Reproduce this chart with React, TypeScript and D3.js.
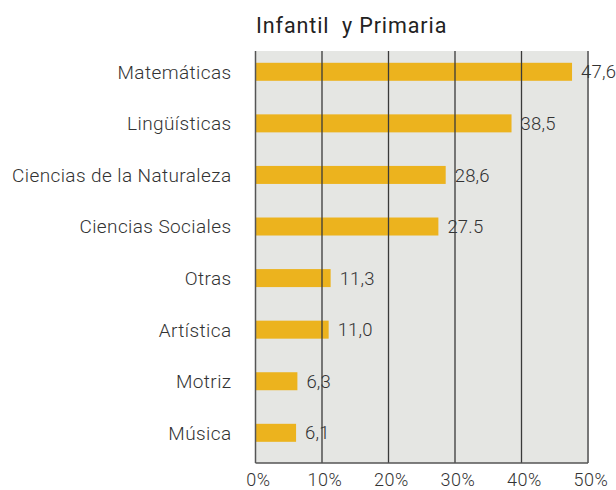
import React, { useRef, useEffect } from "react";
import * as d3 from "d3";

const categories = [
  "Matemáticas",
  "Lingüísticas",
  "Ciencias de la Naturaleza",
  "Ciencias Sociales",
  "Otras",
  "Artística",
  "Motriz",
  "Música",
];
const values = [47.6, 38.5, 28.6, 27.5, 11.3, 11.0, 6.3, 6.1];
const valueLabels = ["47,6", "38,5", "28,6", "27.5", "11,3", "11,0", "6,3", "6,1"];
const ticks = [0, 10, 20, 30, 40, 50];
const title = "Infantil  y Primaria";

export default function App() {
  const svgRef = useRef<SVGSVGElement>(null);

  useEffect(() => {
    const svg = d3.select(svgRef.current);
    svg.selectAll("*").remove();

    const width = 616;
    const height = 490;
    const font = "Roboto, 'DejaVu Sans', sans-serif";
    const ink = "#333";

    const x = d3.scaleLinear().domain([0, 50]).range([255.5, 588]);
    const y = d3.scaleBand().domain(categories).range([46, 458.6]).padding(0);
    const plotTop = 51;
    const plotBottom = 463;
    const barH = 18;

    svg.attr("width", width).attr("height", height).attr("viewBox", `0 0 ${width} ${height}`);

    // panel background
    svg.append("rect")
      .attr("x", x(0))
      .attr("y", plotTop)
      .attr("width", x(50) - x(0))
      .attr("height", plotBottom - plotTop)
      .attr("fill", "#e5e6e3");

    // bars
    svg.selectAll("rect.bar")
      .data(values)
      .join("rect")
      .attr("class", "bar")
      .attr("x", x(0))
      .attr("y", (d, i) => (y(categories[i]) || 0) + y.bandwidth() / 2 - barH / 2)
      .attr("width", (d) => x(d) - x(0))
      .attr("height", barH)
      .attr("fill", "#ecb31e");

    // grid lines (drawn over bars, as in the original)
    svg.selectAll("line.grid")
      .data(ticks.slice(1))
      .join("line")
      .attr("class", "grid")
      .attr("x1", (d) => x(d))
      .attr("x2", (d) => x(d))
      .attr("y1", plotTop)
      .attr("y2", plotBottom)
      .attr("stroke", (d) => (d === 50 ? "#777" : "#3a3a3a"))
      .attr("stroke-width", (d) => (d === 50 ? 2 : 1.3));

    // axis lines
    svg.append("line")
      .attr("x1", x(0)).attr("x2", x(0))
      .attr("y1", plotTop).attr("y2", plotBottom)
      .attr("stroke", "#555").attr("stroke-width", 1.5);
    svg.append("line")
      .attr("x1", x(0)).attr("x2", x(50))
      .attr("y1", plotBottom).attr("y2", plotBottom)
      .attr("stroke", "#555").attr("stroke-width", 1.5);

    const styleText = (sel: any, size: number, spacing: number) =>
      sel
        .attr("fill", ink)
        .style("font-family", font)
        .style("font-weight", 300)
        .style("font-size", `${size}px`)
        .style("letter-spacing", `${spacing}px`);

    // value labels
    svg.selectAll("text.value")
      .data(values)
      .join("text")
      .attr("class", "value")
      .attr("x", (d) => x(d) + 9)
      .attr("y", (d, i) => (y(categories[i]) || 0) + y.bandwidth() / 2)
      .attr("dy", "0.36em")
      .text((d, i) => valueLabels[i])
      .call(styleText, 18.5, 0.2);

    // category labels
    svg.selectAll("text.cat")
      .data(categories)
      .join("text")
      .attr("class", "cat")
      .attr("x", 231.5)
      .attr("y", (d) => (y(d) || 0) + y.bandwidth() / 2)
      .attr("dy", "0.36em")
      .attr("text-anchor", "end")
      .text((d) => d)
      .call(styleText, 19, 0.4);

    // x tick labels
    svg.selectAll("text.tick")
      .data(ticks)
      .join("text")
      .attr("class", "tick")
      .attr("x", (d) => x(d) + 3)
      .attr("y", 485.5)
      .attr("text-anchor", "middle")
      .text((d) => `${d}%`)
      .call(styleText, 18, 0.6);

    // title
    svg.append("text")
      .attr("x", 256)
      .attr("y", 33)
      .style("white-space", "pre")
      .text(title)
      .call(styleText, 21.5, 0.9)
      .attr("fill", "#222")
      .style("font-weight", 400);
  }, []);

  return (
    <svg
      ref={svgRef}
      style={{ position: "absolute", left: 0, top: 0, display: "block" }}
    />
  );
}
